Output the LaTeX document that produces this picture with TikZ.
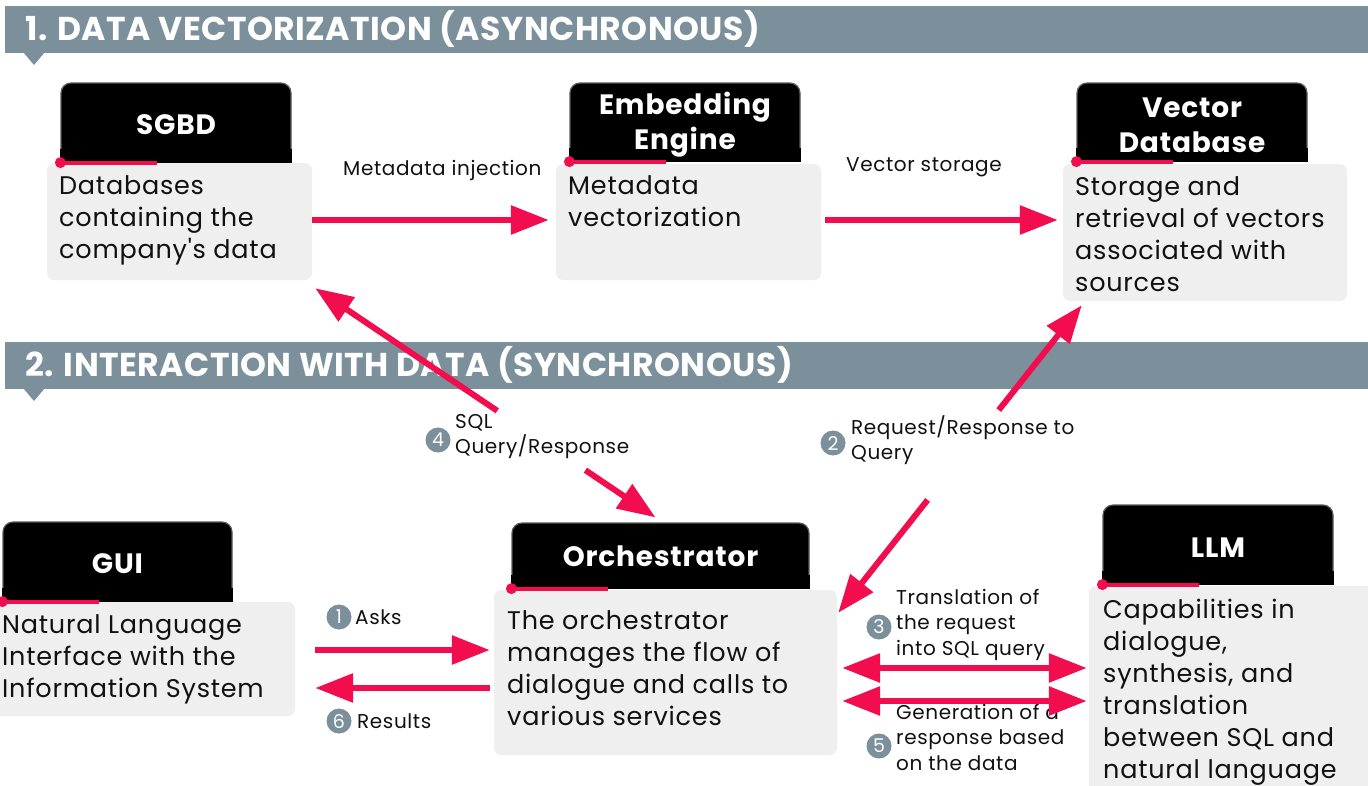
\documentclass[tikz,border=0pt]{standalone}
\usepackage{fontspec}
\setmainfont{Poppins}
\newfontfamily\hdrfam{Poppins}[LetterSpace=1.5]
\newfontfamily\titlefam{Poppins}[LetterSpace=3.0]
\newfontfamily\bodyfam{Poppins}[LetterSpace=3.0]
\newfontfamily\lblfam{Poppins}[LetterSpace=3.0]
\usetikzlibrary{arrows.meta,calc}

\definecolor{hdr}{HTML}{7B909B}
\definecolor{accent}{HTML}{F20D4E}
\definecolor{panel}{HTML}{EFEFEF}
\definecolor{ink}{HTML}{111111}
\definecolor{titleedge}{HTML}{5A5A5A}

\newcommand\hdrfont{\hdrfam\bfseries\fontsize{33}{38}\selectfont}
\newcommand\titlefont{\titlefam\bfseries\fontsize{28}{35}\selectfont}
\newcommand\bodyfont{\bodyfam\fontsize{25.5}{32}\selectfont}
\newcommand\lblfont{\lblfam\fontsize{20}{25.5}\selectfont}

% square off the lower corners of a title tab
\newcommand\squarebase[1]{%
  \fill[black] ([yshift=14pt]#1.south west) rectangle (#1.south east);}
% red accent bar with a dot at the lower left of a title tab
\newcommand\accentbar[1]{%
  \draw[accent, line width=4pt] (#1.south west) -- ++(97,0);
  \fill[accent] (#1.south west) circle (5.5pt);}

\begin{document}
\begin{tikzpicture}[x=1pt,y=-1pt,
  header/.style={fill=hdr, draw=none},
  hdrtext/.style={font=\hdrfont, text=white, anchor=base west, inner sep=0pt},
  titlebox/.style={fill=black, draw=titleedge, line width=1.2pt, rounded corners=10pt,
    inner sep=0pt},
  titletext/.style={text=white, font=\titlefont, align=center, inner sep=0pt},
  panelbox/.style={fill=panel, rounded corners=7pt, inner sep=0pt},
  bodytext/.style={font=\bodyfont, text=ink, align=left, inner sep=0pt, anchor=north west},
  lbl/.style={font=\lblfont, text=ink, align=left, inner sep=0pt, anchor=north west},
  lblline/.style={font=\lblfont, text=ink, inner sep=0pt},
  num/.style={circle, fill=hdr, text=white, minimum size=25pt, inner sep=0pt,
    font=\fontsize{19}{19}\selectfont},
  flow/.style={draw=accent, line width=6pt, -{Triangle[length=38pt,width=28pt]}},
  dflow/.style={draw=accent, line width=6pt,
    {Triangle[length=38pt,width=28pt]}-{Triangle[length=38pt,width=28pt]}}
]
\useasboundingbox (0,0) rectangle (1368,785);

% ---------- section headers ----------
\fill[header] (5,6) rectangle (1368,53);
\fill[header] (23,52) -- (45,52) -- (34,65) -- cycle;
\node[hdrtext] (h1) at (25,40) {1. DATA VECTORIZATION (ASYNCHRONOUS)};

\fill[header] (5,342) rectangle (1368,389);
\fill[header] (23,388) -- (45,388) -- (34,401) -- cycle;
\node[hdrtext] (h2) at (25,376) {2. INTERACTION WITH DATA (SYNCHRONOUS)};

% ---------- title tabs ----------
\node[titlebox, minimum width=230pt, minimum height=79pt] (sgbdT) at (176,122.5) {};
\node[titlebox, minimum width=230pt, minimum height=78pt] (embT) at (685,122) {};
\node[titlebox, minimum width=230pt, minimum height=78pt] (vdbT) at (1192,122) {};
\node[titlebox, minimum width=229pt, minimum height=79pt] (guiT) at (117.5,561.5) {};
\node[titlebox, minimum width=297pt, minimum height=65pt] (orchT) at (660.5,555.5) {};
\node[titlebox, minimum width=230pt, minimum height=79pt] (llmT) at (1218,544.5) {};
\foreach \t in {sgbdT,embT,vdbT,guiT,orchT,llmT} {\squarebase{\t}}

\node[titletext] at ([yshift=-2pt]sgbdT.center) {SGBD};
\node[titletext] at ([yshift=-3pt]embT.center) {Embedding\\Engine};
\node[titletext] at ([yshift=-3pt]vdbT.center) {Vector\\Database};
\node[titletext] at ([yshift=-2pt]guiT.center) {GUI};
\node[titletext] at ([yshift=-1pt]orchT.center) {Orchestrator};
\node[titletext] at ([yshift=-3pt]llmT.center) {LLM};

% ---------- description panels ----------
\node[panelbox, minimum width=265pt, minimum height=117pt] (sgbd) at (179.5,221.5) {};
\node[panelbox, minimum width=265pt, minimum height=116pt] (emb) at (688.5,222) {};
\node[panelbox, minimum width=284pt, minimum height=137pt] (vdb) at (1205,232.5) {};
\node[panelbox, minimum width=305pt, minimum height=114pt] (gui) at (142.5,659) {};
\node[panelbox, minimum width=343pt, minimum height=165pt] (orch) at (665.5,672.5) {};
\node[panelbox, minimum width=291pt, minimum height=209pt] (llm) at (1234.5,690.5) {};

\foreach \t in {sgbdT,embT,vdbT,guiT,orchT,llmT} {\accentbar{\t}}

% ---------- panel texts ----------
\node[bodytext] at (59,175) {Databases\\containing the\\company's data};
\node[bodytext] at (568,175) {Metadata\\vectorization};
\node[bodytext] at (1075,176) {Storage and\\retrieval of vectors\\associated with\\sources};
\node[bodytext] at (2,614) {Natural Language\\Interface with the\\Information System};
\node[bodytext] at (507,610) {The orchestrator\\manages the flow of\\dialogue and calls to\\various services};
\node[bodytext] at (1103,599) {Capabilities in\\dialogue,\\synthesis, and\\translation\\between SQL and\\natural language};

% ---------- connector labels ----------
\node[lblline, anchor=base west] (lmeta) at (343,175) {Metadata injection};
\node[lblline, anchor=base west] (lvec) at (846,171) {Vector storage};

\node[num] (n1) at (339,617) {1};
\node[lblline, anchor=west] (lasks) at (355,617) {Asks};
\node[num] (n6) at (339,721) {6};
\node[lblline, anchor=west] (lres) at (357,721) {Results};

\node[num] (n4) at (438,440) {4};
\node[lbl] (lsql) at (455,414) {SQL\\Query/Response};
\node[num] (n2) at (833,443) {2};
\node[lbl] (lreq) at (851,415) {Request/Response to\\Query};
\node[num] (n3) at (879,627) {3};
\node[lbl] (ltr) at (896,589) {Translation of\\the request\\into SQL query};
\node[num] (n5) at (879,746) {5};
\node[lbl] (lgen) at (896,704) {Generation of a\\response based\\on the data};

% ---------- connectors ----------
\draw[flow] (sgbd.east |- 0,220) -- ([xshift=-7pt]emb.west |- 0,220);
\draw[flow] ([xshift=4pt]emb.east |- 0,220) -- ([xshift=-5pt]vdb.west |- 0,220);

\draw[flow] ([xshift=20pt]gui.east |- 0,650) -- ([xshift=-4pt]orch.west |- 0,650);
\draw[flow] ([xshift=-4pt]orch.west |- 0,688) -- ([xshift=20pt]gui.east |- 0,688);

\draw[dflow] ([xshift=5pt]orch.east |- 0,668) -- ([xshift=-2pt]llm.west |- 0,668);
\draw[dflow] ([xshift=5pt]orch.east |- 0,701) -- ([xshift=-2pt]llm.west |- 0,701);

% SQL query / response between orchestrator and SGBD
\coordinate (sqlA) at ([xshift=3pt,yshift=-8pt]sgbd.south east);
\coordinate (sqlB) at ([xshift=-5pt,yshift=5pt]orchT.north);
\draw[flow] ($(sqlA)!0.535!(sqlB)$) -- (sqlA);
\draw[flow] ($(sqlA)!0.794!(sqlB)$) -- (sqlB);

% request / response between orchestrator and vector database
\coordinate (reqA) at ([xshift=19pt,yshift=-4pt]vdb.south west);
\coordinate (reqB) at ([xshift=1pt,yshift=-23pt]orch.north east);
\draw[flow] ($(reqA)!0.341!(reqB)$) -- (reqA);
\draw[flow] ($(reqA)!0.633!(reqB)$) -- (reqB);

\end{tikzpicture}
\end{document}
